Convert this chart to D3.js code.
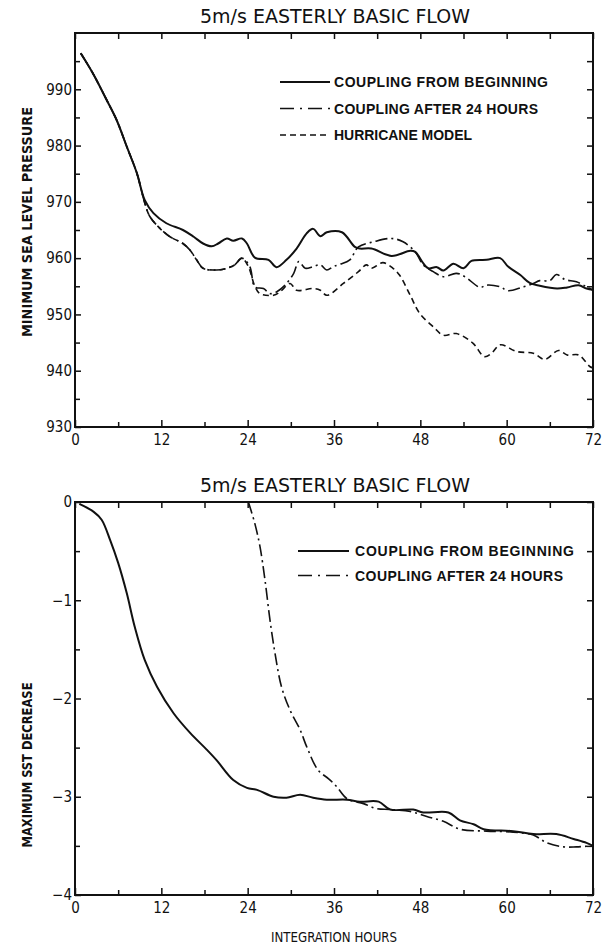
<!DOCTYPE html>
<html>
<head>
<meta charset="utf-8">
<script src="https://cdn.jsdelivr.net/npm/d3@7"></script>
<style>
  body { margin: 0; background: #fff; }
  svg { display: block; }
  .tick text { font-family: "Liberation Sans Narrow", "DejaVu Sans Condensed", sans-serif; font-size: 15px; fill: #111; }
  .tick line { stroke: #111; stroke-width: 1.5; }
</style>
</head>
<body>
<svg width="604" height="948"></svg>
<script>
var titleText = "5m/s EASTERLY BASIC FLOW";
var hourTicks = [0, 12, 24, 36, 48, 60, 72];
var hourMinor = [6, 18, 30, 42, 54, 66];
var pressureTicks = [930, 940, 950, 960, 970, 980, 990];
var pressureMinor = [935, 945, 955, 965, 975, 985, 995];
var sstTicks = [0, -1, -2, -3, -4];
var sstMinor = [-0.5, -1.5, -2.5, -3.5];

// minimum sea level pressure (mb)
var hoursBegin = [0.8,2.5,4.4,5.8,7.2,8.6,9.7,10.9,12.7,15,16.5,17.8,19,19.9,21.1,22,23.2,23.9,25,26.9,28,29.4,30.8,32.2,33.1,34.1,35,37.1,38.9,39.6,41.2,44,46.6,47.3,48.4,49.1,50.3,51.2,52.6,54,55.1,57.2,59.1,60.2,61.9,63.2,64.6,67,68.4,70,71.1,72];
var pressureBegin = [996.4,992.8,988.1,984.5,979.8,975.1,970.3,968,966.2,965,963.8,962.6,962.1,962.6,963.5,963.1,963.5,962.6,960.1,959.7,958.4,959.7,961.7,964.4,965.2,963.9,964.6,964.6,962.0,961.7,961.7,960.4,961.3,961.1,959.1,958.2,958.4,957.8,959.0,958.2,959.5,959.7,960.0,958.5,957.0,955.6,955.1,954.6,954.8,955.2,954.6,954.4];

var hoursAfter24 = [0.8,2.5,4.4,5.8,7.2,8.6,9.7,10.4,11.8,13.2,15,16,16.9,17.8,19.7,21.1,22.2,23.2,24.3,25,26.2,27.1,28,29.2,30.4,31.1,32,33.1,34.1,35,35.9,36.8,38.2,39.4,41.5,44,45.6,47.3,48.4,49.8,51.2,53,54.2,56.3,57.2,59.1,60.2,62.1,63.7,64.6,66,66.9,68.1,69.7,71.1,72];
var pressureAfter24 = [996.4,992.8,988.1,984.5,979.8,975.1,969.8,967.4,965.3,963.8,962.6,961.4,959.7,958.2,957.9,958.2,958.8,960.0,958.5,954.9,954.6,953.7,954.0,955.2,957.3,959.4,958.2,958.5,958.8,957.9,958.5,958.9,959.7,962.0,962.9,963.5,962.9,961.1,958.8,957.6,956.7,957.3,956.7,954.8,955.2,954.9,954.2,954.8,955.5,956.0,956.0,957.1,956.2,955.8,954.9,954.3];

var hoursHurricane = [0.8,2.5,4.4,5.8,7.2,8.6,9.7,10.4,11.8,13.2,15,16,16.9,17.8,19.7,21.1,22.2,23.2,24.1,25,25.7,27.6,28.5,29.9,30.8,33.1,34.1,35,37.3,39.4,40.5,41.2,42.8,44.2,45.1,46.6,47.9,49.8,51.2,53,55.3,56.9,57.9,59.1,61.4,63.7,65.3,67.2,68.4,70,71.1,71.6,72];
var pressureHurricane = [996.4,992.8,988.1,984.5,979.8,975.1,969.8,967.4,965.3,963.8,962.6,961.4,959.7,958.2,957.9,958.2,958.8,960.0,958.5,955,953.7,953.4,954.0,955.5,954.3,954.6,954.3,953.4,955.5,957.6,958.8,958.2,959.2,958.2,957.0,953.4,950.2,947.8,946.3,946.6,944.9,942.5,943.1,944.6,943.4,943.1,942.0,943.6,942.8,942.8,941.4,940.7,940.5];

// maximum SST decrease (deg C)
var sstHoursBegin = [0.6,2.6,3.7,4.9,6.0,7.2,8.3,9.7,11.4,13.7,16.0,18.3,19.7,22.0,23.9,25.3,27.6,29.4,31.3,33.1,35.0,37.8,39.6,42.2,43.8,47.0,48.4,51.9,53.5,55.4,56.8,60.9,63.7,66.9,69.3,71.1,72];
var sstBegin = [-0.02,-0.10,-0.18,-0.39,-0.62,-0.93,-1.27,-1.61,-1.88,-2.15,-2.35,-2.52,-2.63,-2.83,-2.91,-2.93,-3.00,-3.01,-2.98,-3.01,-3.03,-3.03,-3.05,-3.05,-3.13,-3.13,-3.16,-3.16,-3.24,-3.28,-3.33,-3.35,-3.38,-3.38,-3.43,-3.47,-3.50];

var sstHoursAfter24 = [24.1,25,25.7,26.4,27.1,27.8,28.7,29.9,31.3,32.2,33.8,35.3,36.4,37.8,40.1,41.9,43.8,46.6,48.9,51.2,53.5,57.2,60.9,63.7,65.6,67.9,69.7,72];
var sstAfter24 = [0,-0.22,-0.45,-0.79,-1.20,-1.54,-1.88,-2.12,-2.32,-2.49,-2.73,-2.82,-2.90,-3.02,-3.07,-3.12,-3.13,-3.15,-3.20,-3.25,-3.33,-3.35,-3.36,-3.39,-3.47,-3.51,-3.51,-3.50];

var labelBegin = "COUPLING FROM BEGINNING",
    labelAfter24 = "COUPLING AFTER 24 HOURS",
    labelHurricane = "HURRICANE MODEL";

var styles = {
  solid:   {width: 2,   dash: null},
  dashdot: {width: 1.6, dash: "12,4,2,4"},
  dashed:  {width: 1.6, dash: "6,4"}
};

var svg = d3.select("svg");
var left = 75, right = 593;

var zip = function (xs, ys) {
  return xs.map(function (h, i) { return [h, ys[i]]; });
};

var drawPanel = function (p) {
  var x = d3.scaleLinear().domain([0, 72]).range([left, right]);
  var y = d3.scaleLinear().domain(p.domain).range([p.bottom, p.top]);
  var g = svg.append("g");

  // ticks point inward on all four sides
  var addAxis = function (axis, tx, ty, labels) {
    var a = g.append("g").attr("transform", "translate(" + tx + "," + ty + ")").call(axis);
    a.select(".domain").remove();
    if (!labels) a.selectAll("text").remove();
    return a;
  };
  addAxis(d3.axisBottom(x).tickValues(hourTicks).tickSize(-7).tickPadding(7).tickFormat(d3.format("d")), 0, p.bottom, p.xLabels);
  addAxis(d3.axisBottom(x).tickValues(hourMinor).tickSize(-5), 0, p.bottom, false);
  addAxis(d3.axisTop(x).tickValues(hourTicks.concat(hourMinor)).tickSize(-6), 0, p.top, false);
  addAxis(d3.axisLeft(y).tickValues(p.ticks).tickSize(-6).tickPadding(3).tickFormat(d3.format("d")), left, 0, true);
  addAxis(d3.axisLeft(y).tickValues(p.minor).tickSize(-5), left, 0, false);
  addAxis(d3.axisRight(y).tickValues(p.ticks.concat(p.minor)).tickSize(-6), right, 0, false);

  g.append("rect")
    .attr("x", left).attr("y", p.top)
    .attr("width", right - left).attr("height", p.bottom - p.top)
    .attr("fill", "none").attr("stroke", "#111").attr("stroke-width", 2);

  var line = d3.line()
    .curve(d3.curveCatmullRom.alpha(0.5))
    .x(function (d) { return x(d[0]); })
    .y(function (d) { return y(d[1]); });

  p.series.forEach(function (s) {
    g.append("path")
      .attr("d", line(s.data))
      .attr("fill", "none")
      .attr("stroke", "#111")
      .attr("stroke-width", styles[s.style].width)
      .attr("stroke-dasharray", styles[s.style].dash)
      .attr("stroke-linejoin", "round");
  });

  // legend
  p.series.forEach(function (s, i) {
    var ly = p.legend.y + i * p.legend.step;
    g.append("line")
      .attr("x1", p.legend.x1).attr("x2", p.legend.x2)
      .attr("y1", ly).attr("y2", ly)
      .attr("stroke", "#111")
      .attr("stroke-width", styles[s.style].width)
      .attr("stroke-dasharray", s.style == "dashdot" ? "14,6,2,6" : styles[s.style].dash);
    g.append("text")
      .attr("x", p.legend.tx).attr("y", ly + 5)
      .attr("textLength", s.len).attr("lengthAdjust", "spacing")
      .style("font-family", "'Liberation Sans', Arial, sans-serif")
      .style("font-weight", "bold")
      .style("font-size", "14px")
      .attr("fill", "#111")
      .text(s.label);
  });

  // title
  svg.append("text")
    .attr("x", 335).attr("y", p.top - 10)
    .attr("text-anchor", "middle")
    .attr("textLength", 270).attr("lengthAdjust", "spacingAndGlyphs")
    .style("font-family", "'DejaVu Sans', sans-serif")
    .style("font-size", "19px")
    .attr("fill", "#111")
    .text(titleText);

  // y axis title
  svg.append("text")
    .attr("transform", "translate(32," + p.yTitleY + ") rotate(-90)")
    .attr("text-anchor", "middle")
    .attr("textLength", p.yTitleLen).attr("lengthAdjust", "spacingAndGlyphs")
    .style("font-family", "'Liberation Sans Narrow', 'DejaVu Sans Condensed', sans-serif")
    .style("font-weight", "bold")
    .style("font-size", "14px")
    .attr("fill", "#111")
    .text(p.yTitle);
};

drawPanel({
  top: 33, bottom: 427, domain: [930, 1000],
  ticks: pressureTicks, minor: pressureMinor, xLabels: true,
  yTitle: "MINIMUM SEA LEVEL PRESSURE", yTitleY: 222, yTitleLen: 230,
  legend: {x1: 280, x2: 330, tx: 334, y: 82, step: 26.5},
  series: [
    {data: zip(hoursBegin, pressureBegin), style: "solid", label: labelBegin, len: 214},
    {data: zip(hoursAfter24, pressureAfter24), style: "dashdot", label: labelAfter24, len: 204},
    {data: zip(hoursHurricane, pressureHurricane), style: "dashed", label: labelHurricane, len: 138}
  ]
});

drawPanel({
  top: 502, bottom: 895, domain: [-4, 0],
  ticks: sstTicks, minor: sstMinor, xLabels: true,
  yTitle: "MAXIMUM SST DECREASE", yTitleY: 765, yTitleLen: 165,
  legend: {x1: 298, x2: 349, tx: 355, y: 551, step: 24.5},
  series: [
    {data: zip(sstHoursBegin, sstBegin), style: "solid", label: labelBegin, len: 219},
    {data: zip(sstHoursAfter24, sstAfter24), style: "dashdot", label: labelAfter24, len: 208}
  ]
});

svg.append("text")
  .attr("x", 334).attr("y", 942)
  .attr("text-anchor", "middle")
  .attr("textLength", 126).attr("lengthAdjust", "spacingAndGlyphs")
  .style("font-family", "'Liberation Sans Narrow', 'DejaVu Sans Condensed', sans-serif")
  .style("font-size", "14px")
  .attr("fill", "#111")
  .text("INTEGRATION HOURS");
</script>
</body>
</html>
